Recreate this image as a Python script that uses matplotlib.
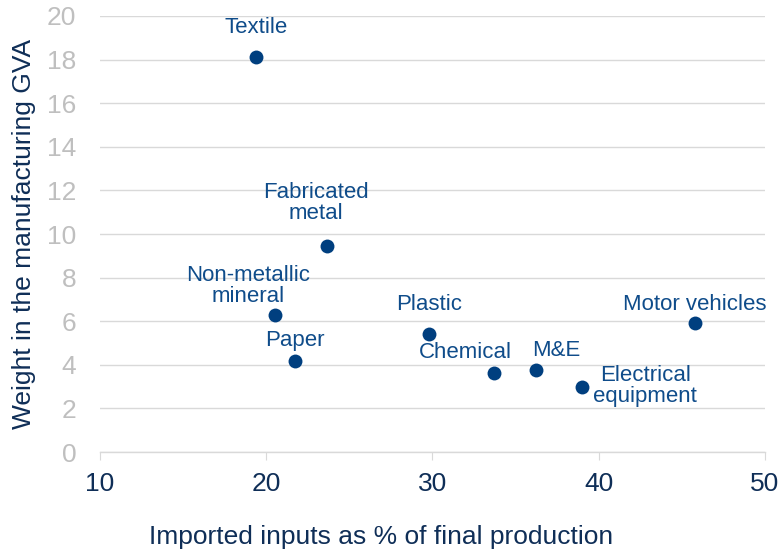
import matplotlib
matplotlib.use("Agg")
import matplotlib.pyplot as plt

plt.rcParams['font.family'] = ['Liberation Sans', 'DejaVu Sans']

sectors = ["Textile", "Fabricated\nmetal", "Non-metallic\nmineral", "Paper", "Plastic",
           "Chemical", "M&E", "Electrical\nequipment", "Motor vehicles"]
imported_share = [19.4, 23.65, 20.5, 21.7, 29.8, 33.7, 36.2, 39.0, 45.8]
gva_weight = [18.1, 9.45, 6.28, 4.17, 5.41, 3.62, 3.76, 2.98, 5.92]
label_offsets = [(0, 30), (-11, 43), (-26, 29), (0, 21), (0, 30),
                 (-29, 21), (21, 20), (63, 1), (0, 18)]

x_ticks = [10, 20, 30, 40, 50]
y_ticks = [0, 2, 4, 6, 8, 10, 12, 14, 16, 18, 20]

navy = "#0F2E57"
point_color = "#003F7F"
label_color = "#0F4C8A"
grid_color = "#D9D9D9"

fig = plt.figure(figsize=(7.83, 5.5), dpi=100)
ax = fig.add_axes([0.1277, 0.178, 0.977 - 0.1277, 0.971 - 0.178])

ax.scatter(imported_share, gva_weight, s=100, color=point_color, zorder=3, linewidths=0)

for name, x, y, off in zip(sectors, imported_share, gva_weight, label_offsets):
    ax.annotate(name, (x, y), xytext=off, textcoords='offset pixels',
                ha='center', va='center', fontsize=16, color=label_color,
                linespacing=1.0)

ax.set_xlim(10, 50)
ax.set_ylim(0, 20)
ax.set_xticks(x_ticks)
ax.set_yticks(y_ticks)
ax.grid(axis='y', color=grid_color, linewidth=1)
ax.set_axisbelow(True)

for side in ['top', 'right', 'left']:
    ax.spines[side].set_visible(False)
ax.spines['bottom'].set_color(grid_color)
ax.spines['bottom'].set_linewidth(1)

ax.tick_params(axis='y', length=0, labelsize=19, labelcolor="#BFBFBF", pad=17)
ax.tick_params(axis='x', length=6, color=grid_color, labelsize=19, labelcolor=navy, pad=8)

ax.set_xlabel("Imported inputs as % of final production", fontsize=19, color=navy)
ax.xaxis.set_label_coords(0.4226, -0.195)
ax.xaxis.label.set_va('center')
ax.set_ylabel("Weight in the manufacturing GVA", fontsize=19, color=navy, labelpad=8)

fig.savefig("out.png", dpi=100)
